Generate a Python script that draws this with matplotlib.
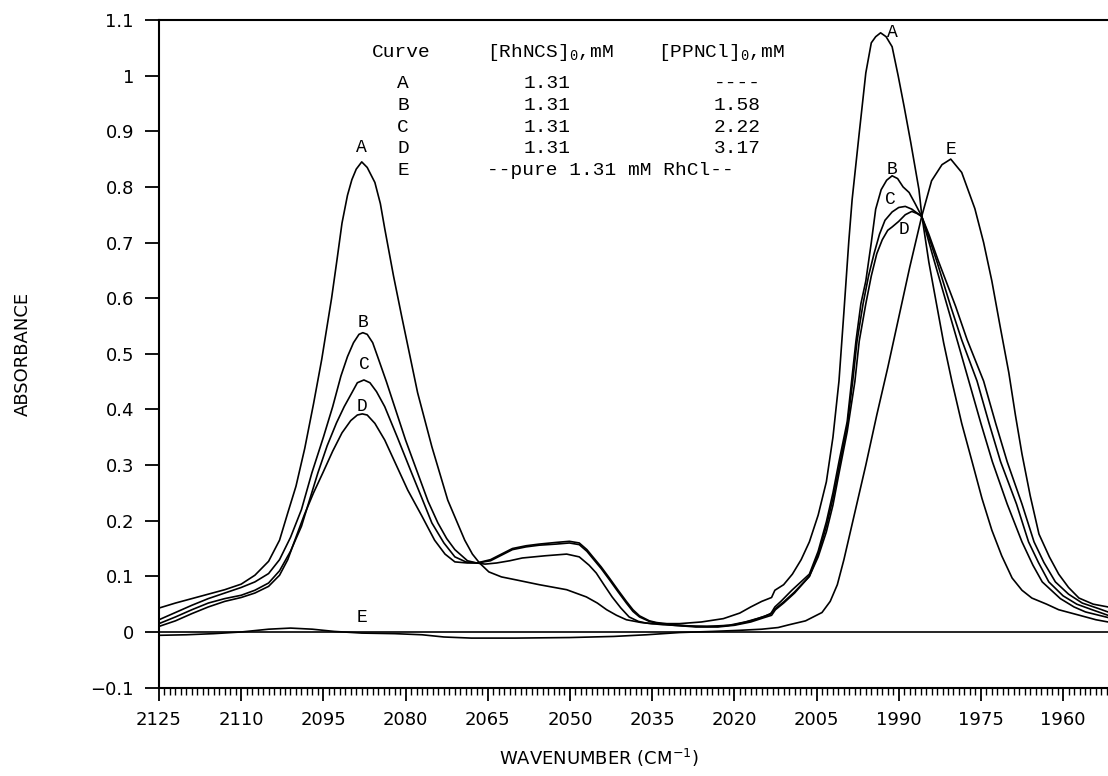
import numpy as np
import matplotlib
matplotlib.use("Agg")
import matplotlib.pyplot as plt
from matplotlib.ticker import MultipleLocator, FixedLocator, FuncFormatter

plt.rcParams['font.family'] = ['DejaVu Sans']
plt.rcParams['mathtext.fontset'] = 'custom'
plt.rcParams['mathtext.rm'] = 'Liberation Mono'
plt.rcParams['mathtext.it'] = 'Liberation Mono'
plt.rcParams['mathtext.sf'] = 'DejaVu Sans'

# ---- spectra: wavenumber (cm-1) / absorbance ----
wn_A = [2125.0, 2122.0, 2119.0, 2116.0, 2113.0, 2110.0, 2107.5, 2105.0, 2103.0, 2101.5,
        2100.0, 2098.4, 2096.8, 2095.3, 2093.5, 2092.5, 2091.6, 2090.6, 2089.8, 2089.0,
        2088.0, 2087.0, 2085.6, 2084.6, 2083.8, 2082.2, 2080.7, 2077.8, 2075.2, 2072.3,
        2069.2, 2067.8, 2066.5, 2064.8, 2062.5, 2060.0, 2055.6, 2050.6, 2047.0, 2045.0,
        2043.3, 2041.5, 2039.7, 2037.0, 2035.0, 2030.0, 2026.0, 2022.0, 2019.0, 2017.0,
        2015.0, 2013.2, 2012.6, 2011.0, 2009.4, 2007.8, 2006.3, 2004.7, 2003.2, 2002.0,
        2000.9, 2000.0, 1999.1, 1998.5, 1997.2, 1996.0, 1995.0, 1994.2, 1993.3, 1992.3,
        1991.2, 1990.1, 1989.0, 1987.8, 1986.3, 1985.8, 1984.5, 1983.2, 1981.8, 1980.3,
        1978.5, 1976.6, 1974.8, 1973.0, 1971.2, 1969.3, 1967.5, 1965.7, 1963.0, 1960.8,
        1957.0, 1954.0, 1951.8]
ab_A = [0.043, 0.052, 0.060, 0.068, 0.076, 0.086, 0.102, 0.127, 0.165, 0.214,
        0.262, 0.330, 0.410, 0.490, 0.600, 0.670, 0.735, 0.785, 0.813, 0.832,
        0.845, 0.835, 0.808, 0.770, 0.725, 0.640, 0.567, 0.430, 0.333, 0.237,
        0.165, 0.140, 0.124, 0.108, 0.099, 0.094, 0.085, 0.076, 0.063, 0.052,
        0.040, 0.030, 0.022, 0.017, 0.015, 0.015, 0.018, 0.024, 0.034, 0.045,
        0.055, 0.062, 0.075, 0.085, 0.104, 0.130, 0.162, 0.210, 0.270, 0.350,
        0.451, 0.575, 0.703, 0.777, 0.897, 1.005, 1.059, 1.070, 1.077, 1.070,
        1.052, 1.000, 0.944, 0.880, 0.795, 0.750, 0.665, 0.595, 0.520, 0.451,
        0.375, 0.306, 0.240, 0.183, 0.137, 0.097, 0.075, 0.061, 0.050, 0.040,
        0.030, 0.022, 0.018]

wn_B = [2125.0, 2122.0, 2119.0, 2116.0, 2113.0, 2110.0, 2107.5, 2105.0, 2103.0, 2101.0,
        2099.0, 2097.1, 2095.0, 2093.3, 2091.8, 2090.6, 2089.5, 2088.5, 2087.8, 2087.0,
        2086.0, 2085.1, 2083.5, 2082.0, 2080.0, 2077.8, 2075.9, 2074.1, 2072.5, 2071.0,
        2068.7, 2067.0, 2065.5, 2063.4, 2061.0, 2058.7, 2054.5, 2050.6, 2048.3, 2046.5,
        2045.2, 2043.8, 2042.3, 2040.7, 2039.2, 2037.5, 2036.1, 2033.0, 2029.0, 2025.0,
        2021.0, 2018.0, 2015.5, 2013.4, 2012.6, 2011.5, 2009.5, 2006.3, 2004.7, 2003.2,
        2002.0, 2000.9, 1999.4, 1997.8, 1996.9, 1996.0, 1995.0, 1994.2, 1993.2, 1992.2,
        1991.2, 1990.2, 1989.2, 1988.1, 1987.0, 1985.8, 1983.6, 1981.4, 1979.2, 1977.2,
        1975.0, 1972.9, 1970.2, 1967.5, 1965.5, 1963.8, 1960.5, 1958.0, 1955.9, 1951.8]
ab_B = [0.022, 0.035, 0.048, 0.060, 0.070, 0.080, 0.090, 0.105, 0.130, 0.170,
        0.220, 0.286, 0.350, 0.405, 0.460, 0.495, 0.520, 0.535, 0.538, 0.535,
        0.520, 0.495, 0.450, 0.405, 0.345, 0.286, 0.235, 0.196, 0.168, 0.148,
        0.128, 0.124, 0.122, 0.124, 0.128, 0.133, 0.137, 0.140, 0.135, 0.120,
        0.106, 0.085, 0.063, 0.043, 0.027, 0.019, 0.016, 0.013, 0.011, 0.010,
        0.012, 0.018, 0.025, 0.032, 0.045, 0.055, 0.075, 0.104, 0.145, 0.198,
        0.250, 0.306, 0.378, 0.523, 0.590, 0.631, 0.700, 0.760, 0.795, 0.812,
        0.820, 0.815, 0.800, 0.790, 0.770, 0.747, 0.670, 0.595, 0.520, 0.451,
        0.375, 0.306, 0.230, 0.162, 0.120, 0.090, 0.060, 0.045, 0.036, 0.026]

wn_C = [2125.0, 2122.0, 2119.0, 2116.0, 2113.0, 2110.0, 2107.5, 2105.0, 2103.0, 2101.0,
        2099.0, 2096.0, 2094.3, 2092.6, 2091.2, 2089.8, 2088.8, 2087.6, 2086.5, 2085.3,
        2083.8, 2081.5, 2078.9, 2077.0, 2075.2, 2073.0, 2071.0, 2069.0, 2067.0, 2064.5,
        2062.5, 2060.5, 2058.0, 2055.6, 2052.5, 2050.1, 2048.3, 2046.9, 2045.9, 2044.3,
        2042.8, 2041.2, 2039.7, 2038.5, 2037.3, 2035.5, 2034.2, 2031.0, 2027.0, 2023.0,
        2020.0, 2017.0, 2014.5, 2013.2, 2012.5, 2011.0, 2009.0, 2006.3, 2004.7, 2003.2,
        2002.0, 2000.9, 1999.4, 1998.4, 1997.6, 1996.5, 1995.5, 1994.5, 1993.5, 1992.5,
        1991.2, 1990.0, 1988.8, 1987.6, 1986.5, 1985.8, 1984.5, 1983.0, 1980.5, 1978.5,
        1975.7, 1973.5, 1971.4, 1968.5, 1966.3, 1964.5, 1962.6, 1960.0, 1957.5, 1954.7,
        1951.8]
ab_C = [0.015, 0.027, 0.040, 0.052, 0.060, 0.066, 0.075, 0.088, 0.110, 0.145,
        0.190, 0.286, 0.335, 0.376, 0.405, 0.430, 0.448, 0.453, 0.448, 0.432,
        0.405, 0.350, 0.286, 0.240, 0.196, 0.160, 0.135, 0.126, 0.124, 0.128,
        0.138, 0.148, 0.153, 0.156, 0.158, 0.160, 0.157, 0.145, 0.133, 0.114,
        0.094, 0.072, 0.052, 0.037, 0.027, 0.019, 0.016, 0.012, 0.009, 0.009,
        0.012, 0.018, 0.026, 0.030, 0.040, 0.052, 0.070, 0.100, 0.140, 0.190,
        0.240, 0.295, 0.370, 0.450, 0.523, 0.590, 0.640, 0.680, 0.715, 0.740,
        0.755, 0.763, 0.765, 0.760, 0.752, 0.747, 0.710, 0.665, 0.585, 0.525,
        0.451, 0.375, 0.306, 0.230, 0.162, 0.125, 0.090, 0.065, 0.050, 0.040,
        0.030]

wn_D = [2125.0, 2122.0, 2119.0, 2116.0, 2113.0, 2110.0, 2107.5, 2105.0, 2103.0, 2101.5,
        2100.2, 2098.5, 2096.8, 2095.1, 2093.3, 2091.6, 2090.0, 2088.8, 2087.9, 2087.0,
        2085.6, 2083.8, 2081.7, 2079.6, 2077.0, 2074.7, 2072.8, 2071.0, 2068.7, 2067.0,
        2064.5, 2062.5, 2060.5, 2058.0, 2055.6, 2052.5, 2050.1, 2048.3, 2046.9, 2045.9,
        2044.3, 2042.8, 2041.2, 2039.7, 2038.5, 2037.3, 2035.5, 2034.2, 2031.0, 2027.0,
        2023.0, 2020.0, 2017.0, 2014.5, 2013.2, 2012.5, 2011.0, 2009.0, 2006.3, 2004.7,
        2003.2, 2002.0, 2000.9, 1999.4, 1998.0, 1997.2, 1996.0, 1995.0, 1994.0, 1993.0,
        1992.0, 1991.2, 1990.0, 1988.8, 1987.6, 1986.6, 1985.8, 1984.5, 1982.8, 1979.6,
        1977.5, 1974.5, 1972.3, 1970.2, 1967.5, 1965.3, 1963.5, 1961.4, 1959.0, 1956.5,
        1953.5, 1951.8]
ab_D = [0.010, 0.020, 0.033, 0.045, 0.055, 0.062, 0.070, 0.082, 0.102, 0.130,
        0.165, 0.210, 0.250, 0.286, 0.325, 0.358, 0.380, 0.390, 0.392, 0.390,
        0.375, 0.345, 0.300, 0.255, 0.208, 0.165, 0.140, 0.126, 0.124, 0.124,
        0.130, 0.140, 0.150, 0.155, 0.158, 0.161, 0.163, 0.160, 0.148, 0.136,
        0.117, 0.097, 0.075, 0.055, 0.040, 0.029, 0.020, 0.017, 0.013, 0.010,
        0.010, 0.013, 0.020, 0.028, 0.034, 0.042, 0.054, 0.072, 0.100, 0.135,
        0.180, 0.228, 0.285, 0.360, 0.450, 0.523, 0.590, 0.640, 0.680, 0.705,
        0.722, 0.728, 0.738, 0.750, 0.756, 0.752, 0.747, 0.715, 0.668, 0.585,
        0.525, 0.451, 0.375, 0.306, 0.230, 0.162, 0.125, 0.090, 0.068, 0.052,
        0.042, 0.036]

wn_E = [2125.0, 2120.0, 2115.0, 2110.0, 2105.0, 2101.0, 2097.0, 2093.0, 2088.0, 2082.0,
        2077.0, 2073.0, 2068.0, 2060.0, 2050.0, 2042.0, 2036.0, 2030.0, 2024.0, 2019.0,
        2015.0, 2012.0, 2010.0, 2007.0, 2004.0, 2002.5, 2001.2, 2000.0, 1998.0, 1996.0,
        1994.0, 1992.0, 1990.0, 1988.0, 1985.8, 1984.0, 1982.1, 1980.5, 1978.5, 1976.1,
        1974.5, 1973.0, 1971.5, 1969.9, 1968.7, 1967.5, 1966.0, 1964.4, 1962.5, 1960.8,
        1959.0, 1957.1, 1954.5, 1951.8]
ab_E = [-0.006, -0.005, -0.003, 0.000, 0.005, 0.007, 0.005, 0.001, -0.002, -0.003,
        -0.005, -0.009, -0.011, -0.011, -0.010, -0.008, -0.005, -0.001, 0.001, 0.003,
        0.005, 0.008, 0.013, 0.020, 0.035, 0.055, 0.085, 0.130, 0.215, 0.300,
        0.390, 0.475, 0.565, 0.655, 0.747, 0.811, 0.840, 0.850, 0.826, 0.761,
        0.700, 0.631, 0.550, 0.466, 0.390, 0.320, 0.245, 0.176, 0.135, 0.104,
        0.080, 0.061, 0.050, 0.045]

curves = {'A': (wn_A, ab_A), 'B': (wn_B, ab_B), 'C': (wn_C, ab_C),
          'D': (wn_D, ab_D), 'E': (wn_E, ab_E)}

# table printed inside the plot
tbl_curve = ['A', 'B', 'C', 'D']
tbl_rhncs = ['1.31', '1.31', '1.31', '1.31']
tbl_ppncl = ['----', '1.58', '2.22', '3.17']
tbl_pure = '--pure 1.31 mM RhCl--'

x_ticks = [2125, 2110, 2095, 2080, 2065, 2050, 2035, 2020, 2005, 1990, 1975, 1960]
y_ticks = [-0.1, 0, 0.1, 0.2, 0.3, 0.4, 0.5, 0.6, 0.7, 0.8, 0.9, 1.0, 1.1]

fig = plt.figure(figsize=(11.08, 7.76), dpi=100)
ax = fig.add_axes([0.1435, 0.1139, 0.8565, 0.8603])

for name, (wn, ab) in curves.items():
    ax.plot(wn, ab, color='black', lw=1.2)
ax.axhline(0, color='black', lw=1.2)

ax.set_xlim(2125, 1951.8)
ax.set_ylim(-0.1, 1.1)

ax.xaxis.set_major_locator(FixedLocator(x_ticks))
ax.xaxis.set_minor_locator(MultipleLocator(1))
ax.yaxis.set_major_locator(FixedLocator(y_ticks))
ax.yaxis.set_major_formatter(FuncFormatter(lambda v, p: ('%g' % round(v, 2)).replace('-', '\u2212')))

ax.tick_params(axis='x', which='major', direction='out', length=9.5, width=1.3,
               labelsize=13, pad=7.5)
ax.tick_params(axis='x', which='minor', direction='out', length=5, width=1.0)
ax.tick_params(axis='y', which='major', direction='out', length=10, width=1.3,
               labelsize=13, pad=8)
ax.spines['right'].set_visible(False)
for s in ['left', 'bottom', 'top']:
    ax.spines[s].set_linewidth(1.5)

ax.set_xlabel(r'WAVENUMBER (CM$^{\mathsf{-1}}$)', fontsize=13, va='baseline')
ax.xaxis.set_label_coords(0.463, -0.116)
ax.set_ylabel('ABSORBANCE', fontsize=13, va='center')
ax.yaxis.set_label_coords(-0.1438, 0.5)

# curve letters, anchored at the peaks of each curve
def peak(name, hi, lo):
    wn, ab = np.array(curves[name][0]), np.array(curves[name][1])
    m = (wn <= hi) & (wn >= lo)
    i = np.argmax(np.where(m, ab, -1))
    return wn[i], ab[i]

mono = 'Liberation Mono'
lab_style = [  # name, window hi, window lo, dx pt, dy pt, ha
    ('A', 2100, 2075, 0, 7, 'center'),
    ('B', 2100, 2075, 0, 4, 'center'),
    ('C', 2100, 2075, 0, 8, 'center'),
    ('D', 2100, 2075, 0, 2, 'center'),
    ('A', 2000, 1980, 4.5, -3, 'left'),
    ('B', 2000, 1980, 0, 1, 'center'),
    ('C', 2000, 1980, -11, 1.5, 'center'),
    ('D', 2000, 1980, -6, -16, 'center'),
    ('E', 1990, 1970, 0, 4, 'center'),
]
for name, hi, lo, dx, dy, ha in lab_style:
    px, py = peak(name, hi, lo)
    ax.annotate(name, (px, py), xytext=(dx, dy), textcoords='offset points',
                ha=ha, va='baseline', fontsize=13, family=mono)
xa, _ = peak('A', 2100, 2075)
ax.annotate('E', (xa, 0), xytext=(0, 7), textcoords='offset points',
            ha='center', va='baseline', fontsize=13, family=mono)

# table
def fx(p):
    return (p - 159) / 949.0

def fy(p):
    return (687.6 - p) / 667.6

tkw = dict(transform=ax.transAxes, family=mono, fontsize=14, va='baseline')
ax.text(fx(372), fy(57), 'Curve', ha='left', **tkw)
ax.text(fx(487), fy(57), r'[RhNCS]$_0$,mM', ha='left', **tkw)
ax.text(fx(658), fy(57), r'[PPNCl]$_0$,mM', ha='left', **tkw)
row_y = [88, 110, 132, 153]
for i, c in enumerate(tbl_curve):
    ax.text(fx(403), fy(row_y[i]), c, ha='center', **tkw)
    ax.text(fx(547), fy(row_y[i]), tbl_rhncs[i], ha='center', **tkw)
    ax.text(fx(737), fy(row_y[i]), tbl_ppncl[i], ha='center', **tkw)
ax.text(fx(403), fy(175), 'E', ha='center', **tkw)
ax.text(fx(487), fy(175), tbl_pure, ha='left', **tkw)

fig.savefig('out.png', dpi=100)
